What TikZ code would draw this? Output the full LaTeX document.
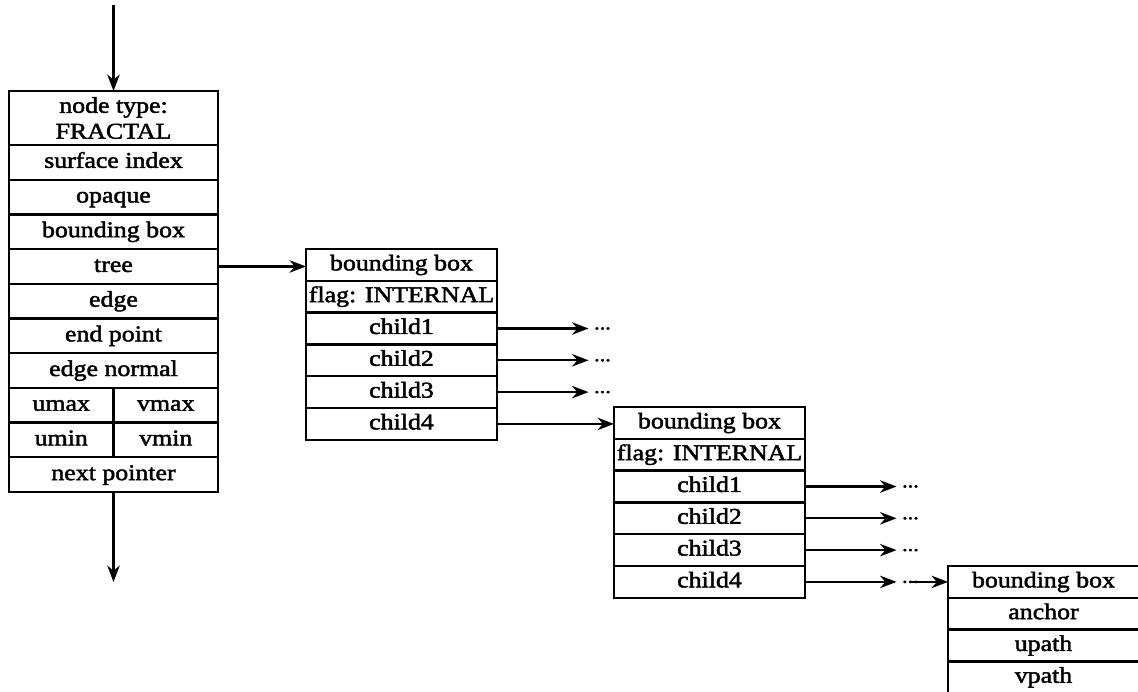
\documentclass[tikz,border=0pt]{standalone}
\usepackage{fontspec}
\setmainfont{Liberation Serif}[FakeStretch=1.15, FakeBold=2]
\usetikzlibrary{arrows.meta, positioning}
\def\rowF{0.694}
\def\rowB{0.636}
\def\wideW{4.18}
\def\boxW{3.82}
\def\gapR{1.83}

\begin{document}
\begin{tikzpicture}[
  >={Stealth[length=3.3mm, width=2.5mm]},
  cell/.style  = {draw, line width=1.3pt, outer sep=0pt, inner sep=0pt,
                  text height=9pt, text depth=2.8pt,
                  font=\fontsize{12.8}{14}\selectfont},
  frow/.style  = {cell, minimum width=\wideW cm, minimum height=\rowF cm},
  half/.style  = {cell, minimum width=2.09cm, minimum height=\rowF cm},
  brow/.style  = {cell, minimum width=\boxW cm, minimum height=\rowB cm},
  head/.style  = {draw, line width=1.3pt, outer sep=0pt, inner sep=0pt,
                  align=center, minimum width=\wideW cm, minimum height=1.08cm,
                  font=\fontsize{12.8}{14.7}\selectfont},
  ptr/.style   = {->, line width=1.3pt},
  more/.style  = {inner xsep=3pt, inner ysep=0pt,
                  font=\fontsize{11}{11}\selectfont},
]
\useasboundingbox (0,0) rectangle (22.76,-13.82);
\clip (0,0) rectangle (22.76,-13.82);

% ---------- fractal node record ----------
\node[head, anchor=north west] (f-type) at (0.18,-1.82) {node type:\\FRACTAL};
\node[frow, below=0pt of f-type]   (f-surf)   {surface index};
\node[frow, below=0pt of f-surf]   (f-opaque) {opaque};
\node[frow, below=0pt of f-opaque] (f-bbox)   {bounding box};
\node[frow, below=0pt of f-bbox]   (f-tree)   {tree};
\node[frow, below=0pt of f-tree]   (f-edge)   {edge};
\node[frow, below=0pt of f-edge]   (f-end)    {end point};
\node[frow, below=0pt of f-end]    (f-normal) {edge normal};
\node[half, below right=0pt and 0pt of f-normal.south west] (f-umax) {umax};
\node[half, right=0pt of f-umax]   (f-vmax)   {vmax};
\node[half, below=0pt of f-umax]   (f-umin)   {umin};
\node[half, right=0pt of f-umin]   (f-vmin)   {vmin};
\node[frow, below=0pt of f-umin.south east] (f-next) {next pointer};

\coordinate[above=1.72cm of f-type] (entry);
\coordinate[below=1.8cm of f-next]  (exit);
\draw[ptr] (entry) -- (f-type);
\draw[ptr] (f-next) -- (exit);

% ---------- internal tree nodes ----------
\foreach \b/\x/\y in {a/6.12/-4.98, b/12.28/-8.14}{
  \node[brow, anchor=north west] (\b-bbox) at (\x,\y) {bounding box};
  \node[brow, below=0pt of \b-bbox] (\b-flag) {flag: INTERNAL};
  \node[brow, below=0pt of \b-flag] (\b-child1) {child1};
  \foreach \c in {2,3,4}{
    \pgfmathtruncatemacro{\prev}{\c-1}
    \node[brow, below=0pt of \b-child\prev] (\b-child\c) {child\c};
  }
  \foreach \c in {1,2,3}{
    \node[more, right=\gapR cm of \b-child\c] (\b-more\c) {...};
    \draw[ptr] (\b-child\c) -- (\b-more\c);
  }
}

% ---------- leaf node ----------
\node[brow, anchor=north west] (c-bbox) at (18.96,-11.32) {bounding box};
\node[brow, below=0pt of c-bbox]   (c-anchor) {anchor};
\node[brow, below=0pt of c-anchor] (c-upath)  {upath};
\node[brow, below=0pt of c-upath]  (c-vpath)  {vpath};

% ---------- pointers between records ----------
\draw[ptr] (f-tree) -- (f-tree -| a-bbox.west);
\draw[ptr] (a-child4) -- (a-child4 -| b-bbox.west);
\node[more, right=\gapR cm of b-child4] (b-more4) {...};
\draw[ptr] (b-child4) -- (b-more4);
\draw[ptr] (b-more4.center) -- (b-more4 -| c-bbox.west);

\end{tikzpicture}
\end{document}
